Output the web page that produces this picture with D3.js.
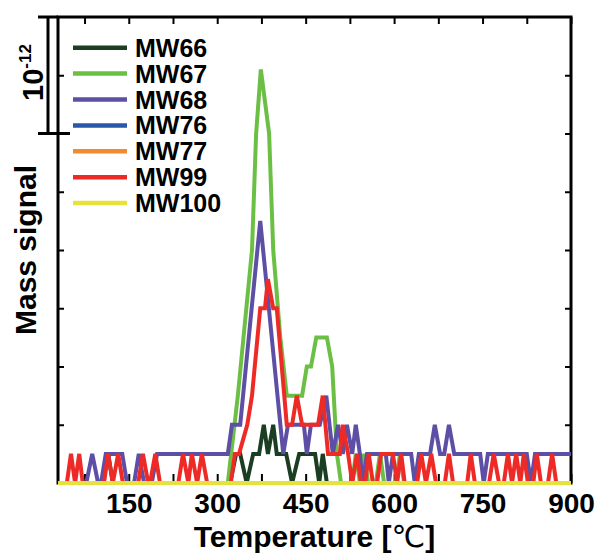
<!DOCTYPE html>
<html><head><meta charset="utf-8">
<script src="https://cdn.jsdelivr.net/npm/d3@7"></script>
<style>body{margin:0;background:#fff}svg{display:block}</style>
</head><body><div id="chart"></div>
<script>
// Series names and colours (legend order)
const seriesNames = ["MW66", "MW67", "MW68", "MW76", "MW77", "MW99", "MW100"];
const seriesColors = ["#1b3e22", "#6cbf45", "#5c4fa5", "#2859a8", "#f28a30", "#ee2a27", "#e6e23c"];

// [temperature °C, signal in units of 0.25×10^-12]
const mw66 = [[30,0],[106,0],[115,1],[123,0],[322,0],[332,1],[339,1],[350,0],[361,1],[371,1],[379,2],[386,1],[395,2],[401,1],[417,1],[427,0],[439,1],[466,1],[473,0],[479,1],[486,0],[900,0]];
const mw67 = [[30,0],[318,0],[335,3],[359,8],[366,12],[374,14.2],[388,12],[395,8],[407,5],[418,3],[444,3],[452,4],[459,4],[468,5],[486,5],[495,4],[503,1],[510,0],[529,0],[535,1],[542,0],[549,1],[556,0],[569,0],[576,1],[583,0],[603,0],[610,1],[617,0],[900,0]];
const mw68 = [[30,0],[78,0],[88,1],[98,0],[103,0],[111,1],[139,1],[147,0],[159,0],[167,1],[176,0],[189,0],[198,1],[318,1],[325,2],[339,2],[373,9],[412,1],[420,2],[447,2],[452,1],[459,2],[474,2],[485,3],[496,1],[505,2],[513,1],[520,2],[529,1],[535,2],[542,1],[547,0],[554,1],[586,1],[591,0],[598,1],[629,1],[635,0],[642,1],[661,1],[669,2],[678,1],[685,1],[693,2],[702,1],[746,1],[752,0],[759,1],[825,1],[832,0],[839,1],[900,1]];
const mw76 = [[30,0],[900,0]];
const mw77 = [[30,0],[900,0]];
const mw99 = [[30,0],[45,0],[52,1],[59,0],[66,1],[72,0],[108,0],[115,1],[123,0],[132,1],[140,0],[166,0],[174,1],[183,0],[186,0],[195,1],[203,0],[234,0],[242,1],[251,0],[257,1],[266,0],[274,1],[283,0],[323,0],[330,1],[337,1],[351,2],[359,3],[373,6],[381,6],[386,7],[395,6],[401,6],[418,2],[427,2],[435,3],[444,2],[471,2],[479,3],[488,1],[508,1],[513,2],[522,1],[529,0],[537,1],[544,0],[551,0],[557,1],[564,0],[571,0],[578,1],[598,1],[605,0],[612,1],[618,0],[639,0],[646,1],[654,0],[663,1],[671,0],[686,0],[693,1],[700,0],[724,0],[730,1],[737,0],[761,0],[769,1],[778,0],[786,0],[793,1],[800,0],[807,1],[814,0],[820,1],[827,0],[836,0],[842,1],[849,0],[861,0],[868,1],[875,0],[900,0]];
const mw100 = [[30,0],[900,0]];

const xDomain = [30, 900];
const yDomain = [0, 16];
const xMinorTicks = [75,150,225,300,375,450,525,600,675,750,825,900];
const xTickLabels = [150,300,450,600,750,900];
const yTicks = [2,4,6,8,10,12,14];
const scaleBarRange = [12, 16];   // spans 10^-12
const xTitle = "Temperature [";
const yTitle = "Mass signal";

const seriesData = [mw66, mw67, mw68, mw76, mw77, mw99, mw100];

const W = 598, H = 554;
const L = 58, R = 571, T = 17, B = 483;
const font = "'Liberation Sans', Arial, sans-serif";

const svg = d3.select("#chart").append("svg").attr("width", W).attr("height", H)
  .style("font-family", font);

const x = d3.scaleLinear().domain(xDomain).range([L, R]);
const y = d3.scaleLinear().domain(yDomain).range([B, T]);

// frame
svg.append("rect").attr("x", L).attr("y", T).attr("width", R - L).attr("height", B - T)
  .attr("fill", "none").attr("stroke", "#000").attr("stroke-width", 3);

function styleAxis(g) {
  g.select(".domain").remove();
  g.selectAll(".tick line").attr("stroke", "#000").attr("stroke-width", 2);
}
// bottom
svg.append("g").attr("transform", `translate(0,${B})`)
  .call(d3.axisBottom(x).tickValues(xMinorTicks).tickSize(-9).tickPadding(10)
    .tickFormat(d => xTickLabels.includes(d) ? d : ""))
  .call(styleAxis)
  .call(g => g.selectAll("text").attr("font-size", 28).attr("font-weight", "bold")
    .attr("fill", "#000").attr("font-family", font));
// top
svg.append("g").attr("transform", `translate(0,${T})`)
  .call(d3.axisTop(x).tickValues(xMinorTicks).tickSize(-7).tickFormat(""))
  .call(styleAxis);
// left
svg.append("g").attr("transform", `translate(${L},0)`)
  .call(d3.axisLeft(y).tickValues(yTicks).tickSize(-6).tickFormat(""))
  .call(styleAxis);
// right
svg.append("g").attr("transform", `translate(${R},0)`)
  .call(d3.axisRight(y).tickValues(yTicks).tickSize(-6).tickFormat(""))
  .call(styleAxis);

// scale bar
svg.append("path")
  .attr("d", `M38,${y(scaleBarRange[1])}H${L}M48,${y(scaleBarRange[1])}V${y(scaleBarRange[0])}M38,${y(scaleBarRange[0])}H70`)
  .attr("stroke", "#000").attr("stroke-width", 3).attr("fill", "none");
const sb = svg.append("text").attr("transform", `translate(43,101) rotate(-90)`)
  .attr("font-size", 29).attr("font-weight", "bold").attr("fill", "#000");
sb.append("tspan").text("10");
sb.append("tspan").attr("dy", -12).attr("font-size", 17).text("-12");

// lines
const line = d3.line().x(d => x(d[0])).y(d => y(d[1]));
seriesData.forEach((s, i) => {
  svg.append("path").attr("d", line(s)).attr("fill", "none")
    .attr("stroke", seriesColors[i]).attr("stroke-width", 4);
});

// legend
const lg = svg.append("g");
seriesNames.forEach((n, i) => {
  const yy = 47.7 + 25.9 * i;
  lg.append("line").attr("x1", 73).attr("x2", 127).attr("y1", yy).attr("y2", yy)
    .attr("stroke", seriesColors[i]).attr("stroke-width", 4.5);
  lg.append("text").attr("x", 135).attr("y", yy + 9).attr("font-size", 25)
    .attr("font-weight", "bold").attr("fill", "#000").text(n);
});

// titles
const xt = svg.append("text").attr("x", (L + R) / 2).attr("y", 547).attr("text-anchor", "middle")
  .attr("font-size", 30).attr("font-weight", "bold").attr("fill", "#000");
xt.append("tspan").text(xTitle);
xt.append("tspan").attr("font-family", "'DejaVu Sans'").attr("font-weight", "normal").text("℃");
xt.append("tspan").text("]");

svg.append("text").attr("transform", `translate(36,${(T + B) / 2}) rotate(-90)`)
  .attr("text-anchor", "middle").attr("font-size", 30).attr("font-weight", "bold")
  .attr("fill", "#000").text(yTitle);
</script></body></html>
